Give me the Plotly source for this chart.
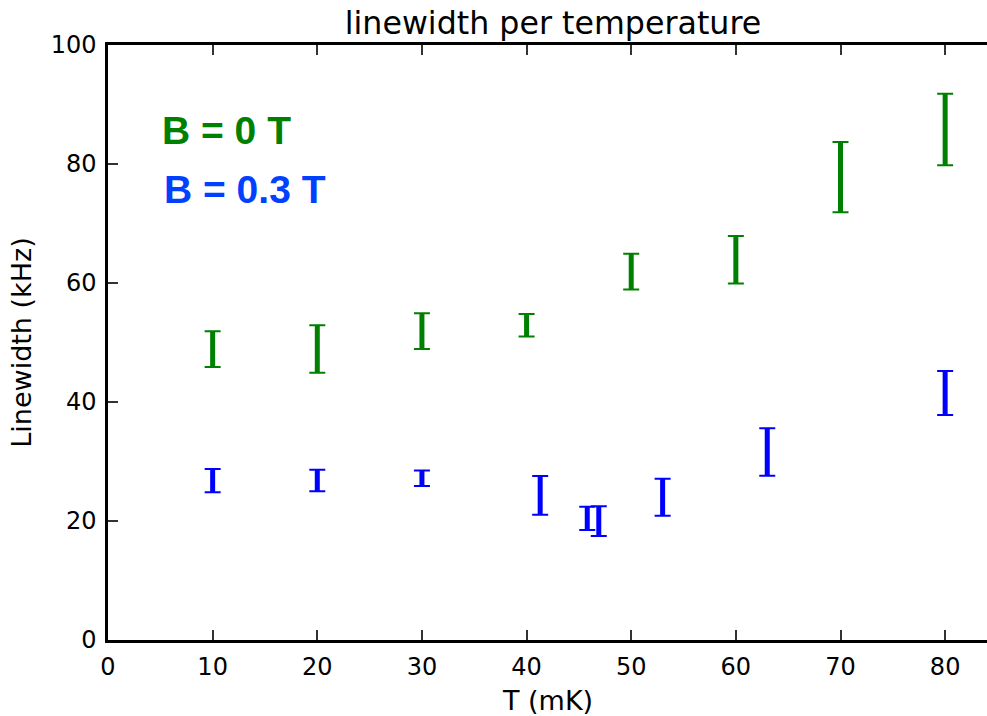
import plotly.graph_objects as go

# Data
T_b0 = [10, 20, 30, 40, 50, 60, 70, 80]
lw_b0 = [48.9, 48.9, 51.9, 52.9, 61.9, 63.9, 77.8, 85.8]
err_b0 = [3.0, 4.0, 3.0, 1.9, 3.0, 4.0, 5.9, 6.0]

T_b03 = [10, 20, 30, 41.3, 45.8, 46.9, 53.0, 63.0, 80]
lw_b03 = [26.8, 26.8, 27.2, 24.3, 20.45, 20.0, 24.0, 31.6, 41.5]
err_b03 = [1.95, 1.8, 1.3, 3.25, 1.95, 2.5, 3.1, 4.0, 3.7]

x_ticks = [0, 10, 20, 30, 40, 50, 60, 70, 80]
y_ticks = [0, 20, 40, 60, 80, 100]

GREEN = "#008000"
BLUE = "#0000ff"

fig = go.Figure()

def add_errbars(x, y, e, color):
    # thick vertical stems
    fig.add_trace(go.Scatter(
        x=x, y=y, mode="markers",
        marker=dict(color="rgba(0,0,0,0)", size=1),
        error_y=dict(type="data", array=e, visible=True, color=color,
                     thickness=5, width=0),
        showlegend=False, hoverinfo="skip"))
    # thin caps
    fig.add_trace(go.Scatter(
        x=x, y=y, mode="markers",
        marker=dict(color="rgba(0,0,0,0)", size=1),
        error_y=dict(type="data", array=e, visible=True, color=color,
                     thickness=2, width=8),
        showlegend=False, hoverinfo="skip"))

add_errbars(T_b0, lw_b0, err_b0, GREEN)
add_errbars(T_b03, lw_b03, err_b03, BLUE)

font_main = "DejaVu Sans"

W, H = 987, 716

fig.update_layout(
    width=W, height=H,
    margin=dict(l=108, r=0, t=45, b=76, autoexpand=False),
    paper_bgcolor="white", plot_bgcolor="white",
    title=dict(text="linewidth per temperature", x=553 / W, xref="container",
               xanchor="center", y=1 - 23 / H, yref="container", yanchor="middle",
               automargin=False,
               font=dict(family=font_main, size=31.7, color="black")),
    font=dict(family=font_main, color="black"),
    xaxis=dict(range=[0, 84.0], tickvals=x_ticks,
               showgrid=False, zeroline=False, automargin=False,
               showline=True, linecolor="black", linewidth=2.5, mirror="ticks",
               ticks="inside", ticklen=10, tickwidth=1.5, tickcolor="#333",
               ticklabelstandoff=3,
               tickfont=dict(size=24, family=font_main)),
    yaxis=dict(range=[0, 100], tickvals=y_ticks,
               showgrid=False, zeroline=False, automargin=False,
               showline=True, linecolor="black", linewidth=2.5, mirror=False,
               ticks="inside", ticklen=10, tickwidth=1.5, tickcolor="#333",
               ticklabelstandoff=4,
               tickfont=dict(size=24, family=font_main),
               title=dict(text="Linewidth (kHz)", font=dict(size=27, family=font_main), standoff=12)),
    annotations=[
        dict(text="T (mK)", x=41.96, y=0, xref="x", yref="paper",
             xanchor="center", yanchor="middle", yshift=-60, showarrow=False,
             font=dict(family=font_main, size=27, color="black")),
        dict(text="<b>B = 0 T</b>", x=5.0, y=(640 - 130) / 5.95, xref="x", yref="y",
             xanchor="left", yanchor="middle", showarrow=False,
             font=dict(family="Liberation Sans", size=39, color=GREEN)),
        dict(text="<b>B = 0.3 T</b>", x=5.15, y=(640 - 189) / 5.95, xref="x", yref="y",
             xanchor="left", yanchor="middle", showarrow=False,
             font=dict(family="Liberation Sans", size=39, color="#0040ff")),
    ],
)

fig.write_html(
    "out.html",
    config={"displayModeBar": False},
    post_script="document.body.style.margin='0';document.body.style.overflow='hidden';",
)
